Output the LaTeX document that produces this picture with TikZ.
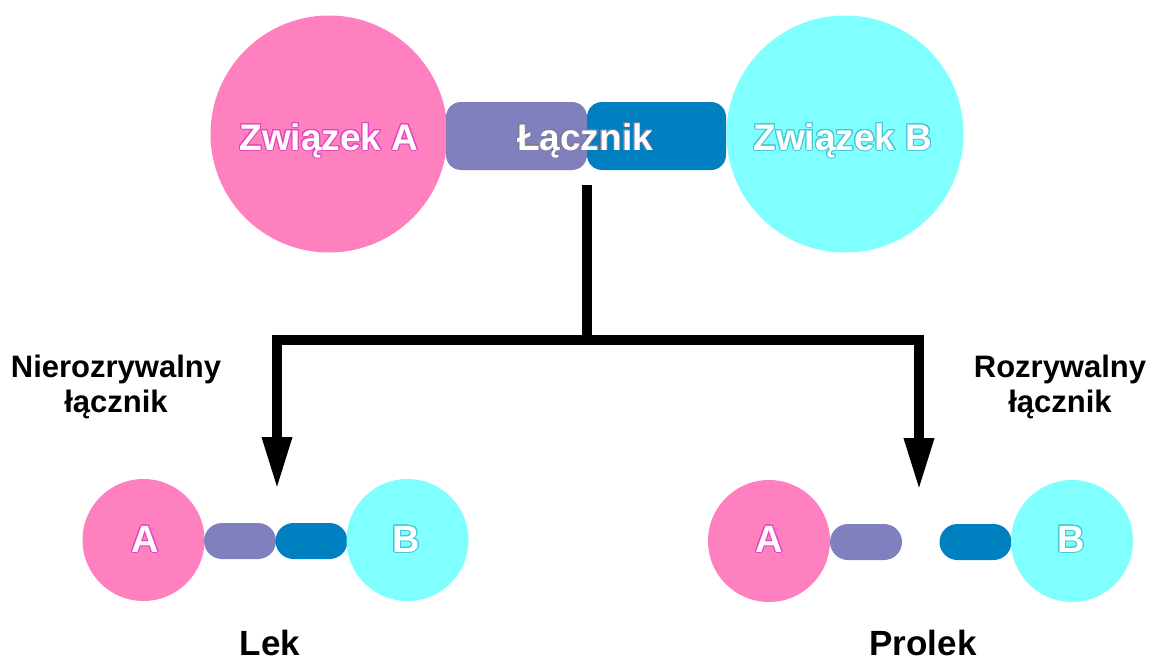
\documentclass[tikz,border=0pt]{standalone}
\usepackage{fontspec}
\setmainfont{Liberation Sans}
\usepackage{contour}
\contournumber{24}
\usetikzlibrary{arrows.meta}
\definecolor{cpink}{HTML}{FF80BF}
\definecolor{ccyan}{HTML}{80FFFF}
\definecolor{cpurple}{HTML}{8080BF}
\definecolor{cblue}{HTML}{0080C0}
\definecolor{glowpink}{HTML}{E545BE}
\definecolor{glowcyan}{HTML}{45C8D8}
\definecolor{glowgrey}{HTML}{7A7A98}
\newcommand{\glowtext}[2]{\contourlength{1pt}\contour{#1}{\textcolor{white}{#2}}}
\begin{document}
\begin{tikzpicture}[x=1pt,y=-1pt,
  mol/.style={circle, inner sep=0pt, minimum size=#1},
  bigmol/.style={mol=237pt},
  smallmol/.style={mol=122pt},
  bigpiece/.style={rectangle, rounded corners=15pt, inner sep=0pt, minimum height=68pt},
  smallpiece/.style={rectangle, rounded corners=18pt, inner sep=0pt, minimum height=36pt, minimum width=72pt},
  bigtxt/.style={font=\fontsize{37}{40}\selectfont\bfseries, inner sep=0pt, anchor=base},
  lettertxt/.style={font=\fontsize{38}{42}\selectfont\bfseries, inner sep=0pt, anchor=base},
  captxt/.style={font=\fontsize{35}{40}\selectfont\bfseries, inner sep=0pt, anchor=base},
  sidetxt/.style={font=\fontsize{31}{36}\selectfont\bfseries, inner sep=0pt, anchor=base, align=center},
  bar/.style={line width=9.5pt, black},
  tip/.style={-{Triangle[length=52pt,width=28pt]}}
]
\useasboundingbox (0,0) rectangle (1151,661);

% conjugate: compound A - linker - compound B
\node[bigmol, fill=cpink] (compA) at (329,134) {};
\node[bigmol, fill=ccyan] (compB) at (845,134) {};
\node[bigpiece, fill=cpurple, minimum width=141pt] (linkL) at (516.5,136) {};
\node[bigpiece, fill=cblue, minimum width=139pt] (linkR) at (656.5,136) {};
\node[bigtxt] (labA) at (329,150) {\glowtext{glowpink}{Związek A}};
\node[bigtxt] (labB) at (843,150) {\glowtext{glowcyan}{Związek B}};
\node[bigtxt] (labL) at (585,150) {\contourlength{0.6pt}\contour{glowgrey}{\textcolor{white}{Łącznik}}};

% branching arrows
\coordinate (stem) at (587,185);
\coordinate (hub) at (587,340);
\coordinate (tipL) at (277,489);
\coordinate (tipR) at (919,490);
\draw[bar] (stem) -- (hub);
\draw[bar, tip] (hub) -| (tipL);
\draw[bar, tip] (hub) -| (tipR);

\node[sidetxt] (nonclv1) at (116,377) {Nierozrywalny};
\node[sidetxt] (nonclv2) at (116,412) {łącznik};
\node[sidetxt] (clv1) at (1060,377) {Rozrywalny};
\node[sidetxt] (clv2) at (1060,412) {łącznik};

% drug: intact linker
\node[smallmol, fill=cpink] (drugA) at (143.5,540) {};
\node[smallpiece, fill=cpurple] (drugL) at (240,541) {};
\node[smallpiece, fill=cblue] (drugR) at (311.5,541) {};
\node[smallmol, fill=ccyan] (drugB) at (407.5,540) {};
\node[lettertxt] (drugAt) at (145,552) {\glowtext{glowpink}{A}};
\node[lettertxt] (drugBt) at (406,552) {\glowtext{glowcyan}{B}};
\node[captxt] (drug) at (270,655) {Lek};

% prodrug: cleaved linker
\node[smallmol, fill=cpink] (proA) at (769,541) {};
\node[smallpiece, fill=cpurple] (proL) at (866,542) {};
\node[smallpiece, fill=cblue] (proR) at (975.5,542) {};
\node[smallmol, fill=ccyan] (proB) at (1072,541) {};
\node[lettertxt] (proAt) at (769,552) {\glowtext{glowpink}{A}};
\node[lettertxt] (proBt) at (1071,552) {\glowtext{glowcyan}{B}};
\node[captxt] (prodrug) at (923,655) {Prolek};
\end{tikzpicture}
\end{document}
